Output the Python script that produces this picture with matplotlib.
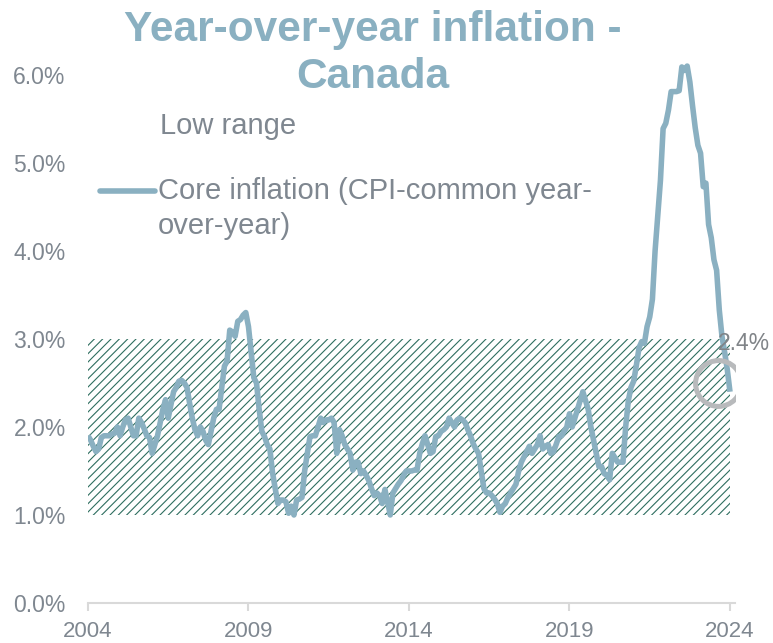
import numpy as np
import matplotlib
matplotlib.use("Agg")
import matplotlib.pyplot as plt
from matplotlib.transforms import offset_copy

plt.rcParams['font.family'] = ['Liberation Sans', 'DejaVu Sans']
plt.rcParams['hatch.linewidth'] = 0.8

# CPI-common, year-over-year %, monthly Jan 2004 .. Jan 2024
core_2004 = [1.9, 1.85, 1.78, 1.72, 1.75, 1.88, 1.9, 1.9, 1.9, 1.92, 1.93, 2.0]
core_2005 = [1.9, 2.0, 2.08, 2.1, 2.0, 1.9, 1.9, 2.1, 2.05, 1.98, 1.9, 1.88]
core_2006 = [1.7, 1.8, 1.9, 2.05, 2.2, 2.31, 2.1, 2.25, 2.4, 2.45, 2.52, 2.53]
core_2007 = [2.5, 2.45, 2.27, 2.1, 1.97, 1.9, 2.0, 1.95, 1.85, 1.8, 1.95, 2.1]
core_2008 = [2.2, 2.2, 2.45, 2.69, 2.75, 3.1, 3.08, 3.03, 3.2, 3.22, 3.27, 3.3]
core_2009 = [3.14, 2.85, 2.56, 2.5, 2.2, 1.95, 1.89, 1.8, 1.75, 1.48, 1.3, 1.13]
core_2010 = [1.17, 1.17, 1.15, 1.02, 1.1, 1.0, 1.17, 1.18, 1.2, 1.5, 1.7, 1.89]
core_2011 = [1.9, 1.9, 2.0, 2.1, 2.05, 2.08, 2.08, 2.1, 2.05, 1.7, 1.97, 1.9]
core_2012 = [1.8, 1.75, 1.7, 1.51, 1.6, 1.6, 1.47, 1.5, 1.45, 1.39, 1.3, 1.22]
core_2013 = [1.25, 1.22, 1.13, 1.29, 1.15, 1.0, 1.25, 1.3, 1.35, 1.39, 1.45, 1.5]
core_2014 = [1.5, 1.5, 1.51, 1.51, 1.7, 1.81, 1.9, 1.8, 1.7, 1.72, 1.89, 1.9]
core_2015 = [1.95, 1.97, 2.0, 2.1, 2.05, 2.0, 2.08, 2.1, 2.08, 2.05, 1.97, 1.9]
core_2016 = [1.81, 1.75, 1.7, 1.5, 1.3, 1.25, 1.25, 1.22, 1.18, 1.13, 1.03, 1.1]
core_2017 = [1.13, 1.2, 1.25, 1.3, 1.35, 1.5, 1.6, 1.66, 1.72, 1.78, 1.7, 1.75]
core_2018 = [1.8, 1.9, 1.75, 1.78, 1.8, 1.7, 1.72, 1.8, 1.89, 1.9, 1.95, 2.0]
core_2019 = [2.15, 2.0, 2.1, 2.2, 2.3, 2.4, 2.3, 2.2, 2.0, 1.85, 1.7, 1.55]
core_2020 = [1.55, 1.47, 1.45, 1.4, 1.7, 1.65, 1.6, 1.6, 1.6, 2.0, 2.3, 2.45]
core_2021 = [2.52, 2.7, 2.9, 2.97, 2.95, 3.14, 3.25, 3.45, 4.0, 4.4, 4.8, 5.39]
core_2022 = [5.45, 5.6, 5.81, 5.81, 5.81, 5.82, 6.09, 6.05, 6.1, 5.92, 5.65, 5.4]
core_2023 = [5.2, 5.11, 4.73, 4.77, 4.3, 4.15, 3.9, 3.78, 3.33, 3.03, 2.85, 2.65]
core_2024 = [2.4]

core = (core_2004 + core_2005 + core_2006 + core_2007 + core_2008 + core_2009
        + core_2010 + core_2011 + core_2012 + core_2013 + core_2014 + core_2015
        + core_2016 + core_2017 + core_2018 + core_2019 + core_2020 + core_2021
        + core_2022 + core_2023 + core_2024)
start_year = 2004
dates = start_year + np.arange(len(core)) / 12.0

low_range = (1.0, 3.0)
year_ticks = [2004, 2009, 2014, 2019, 2024]
pct_ticks = [0, 1, 2, 3, 4, 5, 6]

line_col = '#8ab0c1'
text_col = '#7f8790'

fig = plt.figure(figsize=(7.73, 6.43), dpi=100)
ax = fig.add_axes([0.1138, 0.0622, 0.951 - 0.1138, 0.952 - 0.0622])

ax.fill_between(dates, low_range[0], low_range[1], facecolor='white',
                edgecolor='#2f6e60', hatch='////', linewidth=0)
ax.plot(dates, core, color=line_col, lw=4.0, solid_joinstyle='round',
        solid_capstyle='butt')

# highlight on the latest value
circ_tr = offset_copy(ax.transData, fig=fig, x=-8.4, y=6.0, units='points')
ax.plot(dates[-1], core[-1], marker='o', ms=33, mfc='none', mec='#b8babc',
        mew=3.6, transform=circ_tr)
ax.annotate(f"{core[-1]:.1f}%", xy=(dates[-1], core[-1]), xytext=(10, 35),
            textcoords='offset points', ha='center', va='center',
            fontsize=16.5, color='#808488')

ax.set_xlim(2004, 2024.16)
ax.set_ylim(0, 6.5)
ax.set_xticks(year_ticks)
ax.set_xticklabels([str(y) for y in year_ticks])
ax.set_yticks(pct_ticks)
ax.set_yticklabels([f"{v:.1f}%" for v in pct_ticks])

for s in ['top', 'right', 'left']:
    ax.spines[s].set_visible(False)
ax.spines['bottom'].set_color('#d9d9d9')
ax.spines['bottom'].set_linewidth(1.5)
ax.tick_params(axis='x', colors='#d9d9d9', width=1.5, length=6,
               labelcolor=text_col, labelsize=16, pad=7)
ax.tick_params(axis='y', length=0, labelcolor=text_col, labelsize=16.5, pad=16)

fig.text(373 / 773, 1 - 10 / 643, "Year-over-year inflation -\nCanada",
         ha='center', va='top', fontsize=30.5, fontweight='bold',
         color=line_col, linespacing=1.22)

# legend
fig.text(160 / 773, 1 - 126 / 643, "Low range", ha='left', va='center',
         fontsize=21, color=text_col)
fig.add_artist(plt.Line2D([100 / 773, 155 / 773], [1 - 191 / 643] * 2,
                          color=line_col, lw=4.0, solid_capstyle='round'))
fig.text(158 / 773, 1 - 191 / 643, "Core inflation (CPI-common year-",
         ha='left', va='center', fontsize=21, color=text_col)
fig.text(158 / 773, 1 - 226 / 643, "over-year)", ha='left', va='center',
         fontsize=21, color=text_col)

fig.savefig("out.png", dpi=100)
